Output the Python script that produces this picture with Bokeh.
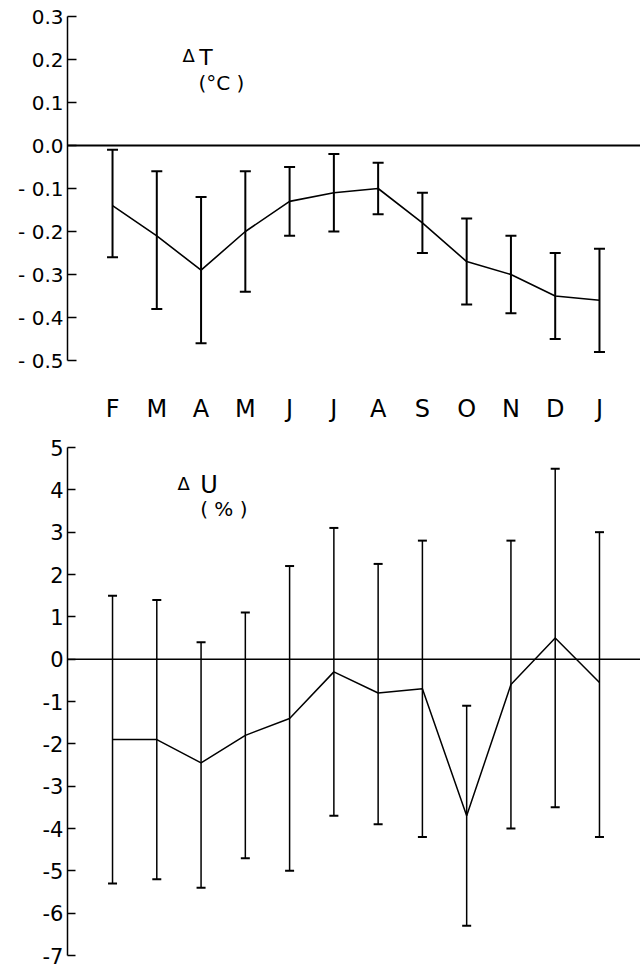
from bokeh.plotting import figure
from bokeh.layouts import column
from bokeh.models import (ColumnDataSource, Whisker, TeeHead, Span, Range1d,
                          FixedTicker, CustomJSTickFormatter, Label)
from bokeh.embed import file_html
from bokeh.resources import INLINE

months = ["F", "M", "A", "M", "J", "J", "A", "S", "O", "N", "D", "J"]
month_idx = list(range(1, 13))

# Delta T (deg C): mean, upper and lower error-bar ends
dT_mean = [-0.14, -0.21, -0.29, -0.20, -0.13, -0.11, -0.10, -0.18, -0.27, -0.30, -0.35, -0.36]
dT_up = [-0.01, -0.06, -0.12, -0.06, -0.05, -0.02, -0.04, -0.11, -0.17, -0.21, -0.25, -0.24]
dT_lo = [-0.26, -0.38, -0.46, -0.34, -0.21, -0.20, -0.16, -0.25, -0.37, -0.39, -0.45, -0.48]

# Delta U (%): mean, upper and lower error-bar ends
dU_mean = [-1.9, -1.9, -2.45, -1.8, -1.4, -0.3, -0.8, -0.7, -3.7, -0.6, 0.5, -0.55]
dU_up = [1.5, 1.4, 0.4, 1.1, 2.2, 3.1, 2.25, 2.8, -1.1, 2.8, 4.5, 3.0]
dU_lo = [-5.3, -5.2, -5.4, -4.7, -5.0, -3.7, -3.9, -4.2, -6.3, -4.0, -3.5, -4.2]

t_ticks = [-0.5, -0.4, -0.3, -0.2, -0.1, 0.0, 0.1, 0.2, 0.3]
u_ticks = [-7, -6, -5, -4, -3, -2, -1, 0, 1, 2, 3, 4, 5]

FONT = "DejaVu Sans"
x_rng = (1 - 45 / 44.24, 12 + 41 / 44.24)


def base_fig(height, yr, top, bottom, xloc):
    p = figure(width=640, height=height, output_backend="svg", toolbar_location=None,
               x_range=Range1d(*x_rng), y_range=Range1d(*yr),
               x_axis_location=xloc, min_border_left=67, min_border_right=0,
               min_border_top=top, min_border_bottom=bottom,
               background_fill_color="white", border_fill_color="white")
    p.outline_line_color = None
    p.xgrid.visible = False
    p.ygrid.visible = False
    p.yaxis.major_tick_in = 9
    p.yaxis.major_tick_out = 0
    p.yaxis.minor_tick_line_color = None
    p.yaxis.axis_line_width = 1.5
    p.yaxis.major_tick_line_width = 1.5
    p.yaxis.axis_line_color = "black"
    p.yaxis.major_label_standoff = 4
    p.yaxis.major_label_text_font = FONT
    p.yaxis.major_label_text_color = "black"
    return p


# ---------- top panel ----------
p1 = base_fig(430, (-0.5, 0.3), 16, 70, "below")
p1.yaxis.ticker = FixedTicker(ticks=t_ticks)
p1.yaxis.formatter = CustomJSTickFormatter(
    code="var s = tick.toFixed(1); return tick < -1e-9 ? '- ' + s.slice(1) : s;")
p1.yaxis.major_label_text_font_size = "20px"

p1.xaxis.ticker = FixedTicker(ticks=month_idx)
p1.xaxis.major_label_overrides = {i: m for i, m in zip(month_idx, months)}
p1.xaxis.axis_line_color = None
p1.xaxis.major_tick_line_color = None
p1.xaxis.minor_tick_line_color = None
p1.xaxis.major_label_standoff = 28
p1.xaxis.major_label_text_font = FONT
p1.xaxis.major_label_text_font_size = "24px"
p1.xaxis.major_label_text_color = "black"

p1.add_layout(Span(location=0, dimension="width", line_color="black", line_width=2))

src1 = ColumnDataSource(dict(x=month_idx, m=dT_mean, up=dT_up, lo=dT_lo))
p1.line("x", "m", source=src1, line_color="black", line_width=1.6)
w1 = Whisker(base="x", upper="up", lower="lo", source=src1, line_color="black", line_width=2,
             upper_head=TeeHead(size=11, line_color="black", line_width=2),
             lower_head=TeeHead(size=11, line_color="black", line_width=2))
p1.add_layout(w1)

p1.add_layout(Label(x=2.58, y=0.209, text="Δ", text_font=FONT, text_font_size="18px",
                    text_baseline="alphabetic", text_align="left", text_color="black"))
p1.add_layout(Label(x=2.96, y=0.205, text="T", text_font=FONT, text_font_size="22px",
                    text_baseline="alphabetic", text_align="left", text_color="black"))
p1.add_layout(Label(x=2.94, y=0.1465, text="(°C )", text_font=FONT, text_font_size="20px",
                    text_baseline="alphabetic", text_align="left", text_color="black"))

# ---------- bottom panel ----------
p2 = base_fig(539, (-7, 5), 17, 14, None)
p2.yaxis.ticker = FixedTicker(ticks=u_ticks)
p2.yaxis.formatter = CustomJSTickFormatter(code="return tick.toFixed(0);")
p2.yaxis.major_label_text_font_size = "21px"
p2.yaxis.major_tick_in = 8

p2.add_layout(Span(location=0, dimension="width", line_color="black", line_width=1.5))

src2 = ColumnDataSource(dict(x=month_idx, m=dU_mean, up=dU_up, lo=dU_lo))
p2.line("x", "m", source=src2, line_color="black", line_width=1.5)
w2 = Whisker(base="x", upper="up", lower="lo", source=src2, line_color="black", line_width=1.5,
             upper_head=TeeHead(size=9, line_color="black", line_width=2),
             lower_head=TeeHead(size=9, line_color="black", line_width=2))
p2.add_layout(w2)

p2.add_layout(Label(x=2.47, y=4.155, text="Δ", text_font=FONT, text_font_size="18px",
                    text_baseline="alphabetic", text_align="left", text_color="black"))
p2.add_layout(Label(x=2.98, y=4.108, text="U", text_font=FONT, text_font_size="24px",
                    text_baseline="alphabetic", text_align="left", text_color="black"))
p2.add_layout(Label(x=2.98, y=3.545, text="( % )", text_font=FONT, text_font_size="20px",
                    text_baseline="alphabetic", text_align="left", text_color="black"))

layout = column(p1, p2, spacing=0)
open("out.html", "w").write(file_html(layout, INLINE))
